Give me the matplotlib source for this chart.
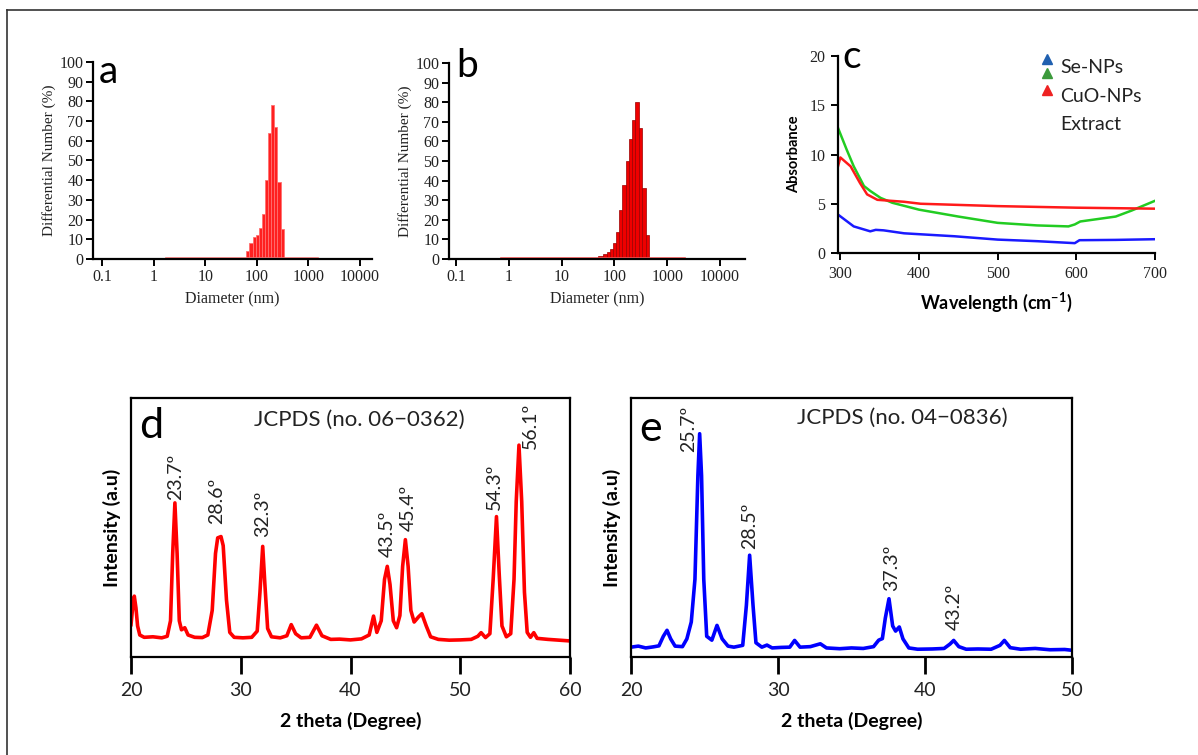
import numpy as np
import matplotlib
matplotlib.use("Agg")
import matplotlib.pyplot as plt
from matplotlib.lines import Line2D

SANS = ["Lato", "DejaVu Sans"]
SERIF = ["Liberation Serif", "DejaVu Serif"]
plt.rcParams["mathtext.fontset"] = "custom"
plt.rcParams["mathtext.rm"] = "Lato"
plt.rcParams["mathtext.bf"] = "Lato:bold"

# --- (a) DLS, Se-NPs ---
a_diam = [66, 77, 89, 100, 116, 134, 155, 180, 202, 231, 267, 309]
a_pct = [4, 8, 11, 12, 15.5, 23, 40, 64, 78, 67, 39, 15]
a_base_x = [1.7, 1500]
a_base_y = [0.6, 0.6]

# --- (b) DLS, CuO-NPs ---
b_diam = [55, 68, 78, 89.5, 101, 112, 132, 152, 175, 201, 231, 269, 314, 361, 421]
b_pct = [1.5, 2.5, 3.5, 5, 8, 14, 25, 38, 50, 61, 71, 80, 67, 36, 12]
b_base_x = [0.7, 2200]
b_base_y = [0.5, 0.5]

# --- (c) UV-vis ---
c_se_x = [297, 317, 338, 345, 355, 381, 402, 445, 500, 550, 598, 604, 650, 700]
c_se_y = [3.9, 2.7, 2.2, 2.35, 2.3, 2.0, 1.9, 1.7, 1.36, 1.2, 1.0, 1.3, 1.33, 1.4]
c_cuo_x = [297, 308, 317, 330, 338, 351, 366, 400, 450, 500, 550, 590, 598, 605, 650, 670, 700]
c_cuo_y = [12.7, 10.5, 8.8, 6.8, 6.3, 5.6, 5.1, 4.4, 3.7, 3.06, 2.8, 2.7, 2.9, 3.2, 3.7, 4.3, 5.3]
c_ext_x = [296, 300, 313, 325, 334, 347, 381, 402, 500, 600, 700]
c_ext_y = [8.5, 9.7, 8.8, 7.1, 5.95, 5.4, 5.2, 5.0, 4.76, 4.6, 4.5]
c_labels = ["Se-NPs", "CuO-NPs", "Extract"]

# --- (d) XRD CuO ---
d_x = [20.0, 20.15, 20.3, 20.45, 20.6, 20.8, 21.2, 22.0, 22.8, 23.3, 23.6, 23.8, 24.0, 24.2,
       24.4, 24.6, 24.9, 25.2, 25.8, 26.5, 27.0, 27.4, 27.7, 27.9, 28.2, 28.4, 28.7, 29.0,
       29.4, 30.2, 31.0, 31.5, 31.75, 32.0, 32.2, 32.45, 32.8, 33.6, 34.2, 34.6, 35.0, 35.5,
       36.3, 36.9, 37.4, 38.2, 39.0, 40.0, 41.0, 41.7, 42.1, 42.4, 42.8, 43.1, 43.35, 43.6,
       43.9, 44.2, 44.5, 44.75, 45.0, 45.25, 45.5, 45.8, 46.2, 46.5, 46.9, 47.3, 48.0, 49.0,
       50.0, 51.0, 51.6, 51.9, 52.3, 52.7, 53.0, 53.3, 53.55, 53.8, 54.2, 54.6, 54.9, 55.1,
       55.35, 55.6, 55.85, 56.1, 56.4, 56.7, 57.0, 58.0, 59.0, 60.0]
d_y = [12.5, 19, 23.5, 19, 12, 8.5, 7.6, 7.8, 7.4, 8.0, 14, 40, 59.5, 40,
       14, 10.5, 11.3, 8.5, 7.6, 7.5, 8.5, 18, 40, 46, 46.5, 43, 22, 9.5,
       7.6, 7.4, 7.6, 10, 25, 42.7, 28, 11, 7.8, 7.4, 8.2, 12.5, 9.0, 7.4,
       7.6, 12.3, 8.2, 6.8, 6.9, 6.6, 7.0, 8.5, 15.8, 9.5, 14, 30, 35, 28,
       14, 11.3, 16, 35, 45.3, 35, 18, 13.5, 15.5, 16.7, 12, 7.8, 6.8, 6.5,
       6.6, 6.8, 8.0, 9.4, 7.5, 9, 30, 54.2, 32, 12, 7.8, 9, 30, 60,
       81.8, 60, 25, 9.5, 7.6, 9.4, 7.2, 6.8, 6.5, 6.2]
d_peak_lab = ["23.7º", "28.6º", "32.3º", "43.5º", "45.4º", "54.3º", "56.1º"]
d_peak_x = [24.04, 27.84, 31.95, 43.34, 45.3, 53.07, 56.4]
d_peak_y = [60.6, 51.3, 46.5, 38.8, 48.5, 56.8, 80.5]

# --- (e) XRD Se ---
e_x = [20.0, 20.5, 21.0, 21.5, 21.9, 22.2, 22.45, 22.7, 23.0, 23.5, 23.8, 24.1, 24.35, 24.55,
       24.67, 24.8, 24.95, 25.15, 25.5, 25.85, 26.2, 26.6, 27.0, 27.6, 27.85, 28.07, 28.3,
       28.5, 28.9, 29.25, 29.6, 30.2, 30.8, 31.13, 31.5, 32.2, 32.88, 33.3, 34.2, 35.0, 35.8,
       36.5, 36.85, 37.1, 37.3, 37.55, 37.8, 38.0, 38.25, 38.5, 38.9, 39.5, 40.5, 41.3, 41.7,
       41.95, 42.3, 42.8, 43.6, 44.5, 45.1, 45.4, 45.8, 46.5, 47.5, 48.5, 49.5, 50.0]
e_y = [3.8, 4.2, 3.5, 3.9, 4.3, 8, 10.3, 7, 4.2, 4.0, 7, 13.5, 30, 70,
       86.2, 70, 30, 8, 6.5, 12.2, 7, 4.2, 3.8, 4.5, 20, 39.3, 20,
       5.5, 3.8, 4.6, 3.5, 3.7, 3.8, 6.4, 3.8, 4.0, 5.1, 3.5, 3.2, 3.5, 3.3,
       4.0, 6.5, 7.1, 15, 22.5, 12, 10, 11.6, 7, 3.5, 3.0, 3.1, 3.3, 5,
       6.4, 4, 3.0, 3.1, 3.0, 4.5, 6.4, 3.6, 3.0, 3.3, 2.8, 2.9, 2.6]
e_peak_lab = ["25.7º", "28.5º", "37.3º", "43.2º"]
e_peak_x = [23.9, 28.07, 37.75, 42.0]
e_peak_y = [79, 41.8, 25.4, 10.3]


def log_edges(centers):
    c = np.asarray(centers, dtype=float)
    mids = np.sqrt(c[:-1] * c[1:])
    left = np.concatenate([[c[0] ** 2 / mids[0]], mids])
    right = np.concatenate([mids, [c[-1] ** 2 / mids[-1]]])
    return left, right - left


def dls_axes(ax, xlim):
    ax.set_xscale("log")
    ax.set_xlim(*xlim)
    ax.set_ylim(0, 100)
    ax.set_yticks(range(0, 101, 10))
    ax.set_xticks([0.1, 1, 10, 100, 1000, 10000])
    ax.set_xticklabels(["0.1", "1", "10", "100", "1000", "10000"])
    ax.minorticks_off()
    for s in ["top", "right"]:
        ax.spines[s].set_visible(False)
    for s in ["left", "bottom"]:
        ax.spines[s].set_linewidth(1.6)
    ax.tick_params(direction="out", length=5, width=1.4, labelsize=11.5, pad=2)
    for lab in ax.get_xticklabels() + ax.get_yticklabels():
        lab.set_family(SERIF)
        lab.set_color("#222222")
    ax.set_ylabel("Differential Number (%)", family=SERIF, fontsize=11, color="#222222", labelpad=2)
    ax.set_xlabel("Diameter (nm)", family=SERIF, fontsize=11.5, color="#222222", labelpad=5)


fig = plt.figure(figsize=(11.98, 7.55), dpi=100)

# outer frame (top and left edges)
fig.add_artist(Line2D([7 / 1198, 1], [1 - 10 / 755, 1 - 10 / 755], color="#333333", lw=1.2))
fig.add_artist(Line2D([7 / 1198, 7 / 1198], [0, 1 - 10 / 755], color="#333333", lw=1.2))

# (a)
ax_a = fig.add_axes([93 / 1198, 1 - 259 / 755, 279 / 1198, 197 / 755])
left, w = log_edges(a_diam)
ax_a.bar(left, a_pct, width=w, align="edge", color="#ff2020", edgecolor="#ff7070", linewidth=0.6)
ax_a.plot(a_base_x, a_base_y, color="#ff8080", lw=1.2)
dls_axes(ax_a, (0.067, 17000))
fig.text(108 / 1198, 1 - 72 / 755, "a", family=SANS, fontsize=28, ha="center", va="center")

# (b)
ax_b = fig.add_axes([449 / 1198, 1 - 259 / 755, 296 / 1198, 196 / 755])
left, w = log_edges(b_diam)
ax_b.bar(left, b_pct, width=w, align="edge", color="#ee0000", edgecolor="#990000", linewidth=0.5)
ax_b.plot(b_base_x, b_base_y, color="#ff6060", lw=1.2)
dls_axes(ax_b, (0.074, 29800))
fig.text(467 / 1198, 1 - 66 / 755, "b", family=SANS, fontsize=28, ha="center", va="center")

# (c)
ax_c = fig.add_axes([838 / 1198, 1 - 253 / 755, 317 / 1198, 197 / 755])
ax_c.plot(c_se_x, c_se_y, color="#1a1aff", lw=1.8)
ax_c.plot(c_cuo_x, c_cuo_y, color="#22cc22", lw=1.8)
ax_c.plot(c_ext_x, c_ext_y, color="#ff1a1a", lw=1.8)
ax_c.set_xlim(297, 700)
ax_c.set_ylim(0, 20)
ax_c.set_xticks([300, 400, 500, 600, 700])
ax_c.set_yticks([0, 5, 10, 15, 20])
for s in ["top", "right"]:
    ax_c.spines[s].set_visible(False)
for s in ["left", "bottom"]:
    ax_c.spines[s].set_linewidth(1.6)
ax_c.tick_params(direction="out", length=5, width=1.4, labelsize=11.5, pad=4)
for lab in ax_c.get_xticklabels() + ax_c.get_yticklabels():
    lab.set_family(SERIF)
    lab.set_color("#222222")
ax_c.set_ylabel("Absorbance", family=SANS, fontsize=10.5, fontweight="bold", labelpad=6)
ax_c.set_xlabel(r"Wavelength (cm$^{\mathbf{-1}}$)", family=SANS, fontsize=13,
                fontweight="bold", labelpad=7)
mk_colors = ["#2060b0", "#3c9a3c", "#ee2222"]
mk_y = [0.985, 0.914, 0.827]
for col, yy in zip(mk_colors, mk_y):
    ax_c.plot([0.659], [yy], marker="^", ms=7, color=col, transform=ax_c.transAxes, clip_on=False)
for lab, yy in zip(c_labels, [0.944, 0.792, 0.65]):
    ax_c.text(0.70, yy, lab, transform=ax_c.transAxes, family=SANS, fontsize=14,
              ha="left", va="center", color="#222222")
fig.text(852 / 1198, 1 - 57 / 755, "c", family=SANS, fontsize=28, ha="center", va="center")


def xrd_axes(ax, x, y, color, xlim, ticks, labs, lx, ly, jcpds, jpos, letter, lpos):
    ax.plot(x, y, color=color, lw=2.6)
    ax.set_xlim(*xlim)
    ax.set_ylim(0, 100)
    ax.set_xticks(ticks)
    ax.set_yticks([])
    for s in ax.spines.values():
        s.set_linewidth(1.6)
    ax.tick_params(axis="x", direction="out", length=12, width=2, labelsize=14, pad=6)
    for lab in ax.get_xticklabels():
        lab.set_family(SANS)
        lab.set_color("#222222")
    for t, xx, yy in zip(labs, lx, ly):
        ax.text(xx, yy, t, rotation=90, ha="center", va="bottom", family=SANS,
                fontsize=14, color="#222222")
    ax.text(jpos[0], jpos[1], jcpds, transform=ax.transAxes, family=SANS, fontsize=16,
            ha="center", va="center", color="#222222")
    ax.text(lpos[0], lpos[1], letter, transform=ax.transAxes, family=SANS, fontsize=31,
            ha="center", va="center")
    ax.set_xlabel("2 theta (Degree)", family=SANS, fontsize=14, fontweight="bold", labelpad=9)
    ax.set_ylabel("Intensity (a.u)", family=SANS, fontsize=14, fontweight="bold", labelpad=7)


ax_d = fig.add_axes([131 / 1198, 1 - 657 / 755, 439 / 1198, 259 / 755])
xrd_axes(ax_d, d_x, d_y, "#ff0000", (20, 60), [20, 30, 40, 50, 60],
         d_peak_lab, d_peak_x, d_peak_y, "JCPDS (no. 06\u22120362)", (0.52, 0.915), "d", (0.045, 0.89))

ax_e = fig.add_axes([631 / 1198, 1 - 657 / 755, 441 / 1198, 259 / 755])
xrd_axes(ax_e, e_x, e_y, "#0000ff", (20, 50), [20, 30, 40, 50],
         e_peak_lab, e_peak_x, e_peak_y, "JCPDS (no. 04\u22120836)", (0.615, 0.923), "e", (0.045, 0.88))

fig.savefig("out.png", dpi=100)
